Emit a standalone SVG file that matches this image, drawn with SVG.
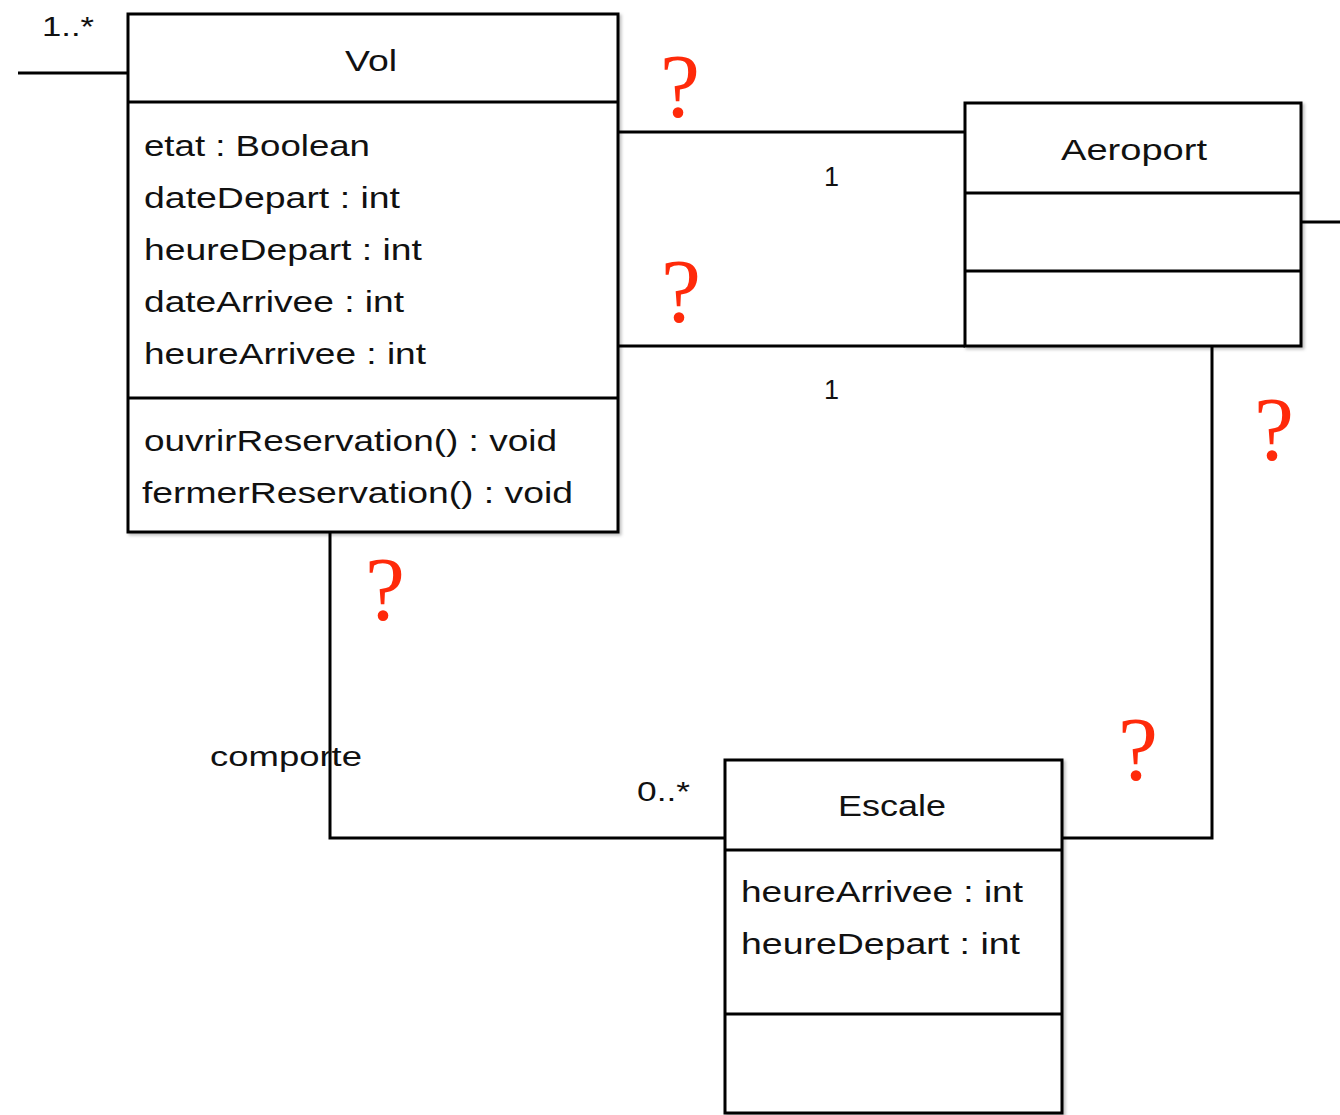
<svg xmlns="http://www.w3.org/2000/svg" width="1340" height="1115" viewBox="0 0 1340 1115">
<style>
.box{fill:#fff;stroke:#000;stroke-width:3}
.div{stroke:#000;stroke-width:3}
.t{font-family:"Liberation Sans",Arial,sans-serif;font-size:30px;fill:#111}
.c{text-anchor:middle}
.lbl{font-family:"Liberation Sans",Arial,sans-serif;font-size:27px;fill:#111}
.q{font-family:"Liberation Serif","Times New Roman",serif;font-size:90px;fill:#ff2a0a;text-anchor:middle}
.conn{fill:none;stroke:#000;stroke-width:3}
</style>
<defs>
<filter id="sh" x="-5%" y="-5%" width="110%" height="110%"><feDropShadow dx="2" dy="2" stdDeviation="1.5" flood-color="#000" flood-opacity="0.25"/></filter>
</defs>
<rect width="1340" height="1115" fill="#fff"/>
<g id="connectors">
<path class="conn" d="M18 73 H128"/>
<path class="conn" d="M618 132 H965"/>
<path class="conn" d="M618 346 H965"/>
<path class="conn" d="M1301 222 H1340"/>
<path class="conn" d="M330 532 V838 H725"/>
<path class="conn" d="M1212 346 V838 H1062"/>
<text class="lbl" x="42" y="36" textLength="52" lengthAdjust="spacingAndGlyphs">1..*</text>
<text class="lbl" x="824" y="186">1</text>
<text class="lbl" x="824" y="399">1</text>
<text class="lbl" x="210" y="766" textLength="152" lengthAdjust="spacingAndGlyphs">comporte</text>
<text class="lbl" x="637" y="801" textLength="53" lengthAdjust="spacingAndGlyphs">0..*</text>
</g>
<g id="Vol">
<rect class="box" x="128" y="14" width="490" height="518" filter="url(#sh)"/>
<line class="div" x1="128" y1="102" x2="618" y2="102"/>
<line class="div" x1="128" y1="398" x2="618" y2="398"/>
<text class="t c" x="371" y="71" textLength="52" lengthAdjust="spacingAndGlyphs">Vol</text>
<text class="t" x="144" y="156" textLength="226" lengthAdjust="spacingAndGlyphs">etat : Boolean</text>
<text class="t" x="144" y="208" textLength="256" lengthAdjust="spacingAndGlyphs">dateDepart : int</text>
<text class="t" x="144" y="260" textLength="278" lengthAdjust="spacingAndGlyphs">heureDepart : int</text>
<text class="t" x="144" y="312" textLength="260" lengthAdjust="spacingAndGlyphs">dateArrivee : int</text>
<text class="t" x="144" y="364" textLength="282" lengthAdjust="spacingAndGlyphs">heureArrivee : int</text>
<text class="t" x="144" y="451" textLength="413" lengthAdjust="spacingAndGlyphs">ouvrirReservation() : void</text>
<text class="t" x="142" y="503" textLength="431" lengthAdjust="spacingAndGlyphs">fermerReservation() : void</text>
</g>
<g id="Aeroport">
<rect class="box" x="965" y="103" width="336" height="243" filter="url(#sh)"/>
<line class="div" x1="965" y1="193" x2="1301" y2="193"/>
<line class="div" x1="965" y1="271" x2="1301" y2="271"/>
<text class="t c" x="1134" y="160" textLength="146" lengthAdjust="spacingAndGlyphs">Aeroport</text>
</g>
<g id="Escale">
<rect class="box" x="725" y="760" width="337" height="353" filter="url(#sh)"/>
<line class="div" x1="725" y1="850" x2="1062" y2="850"/>
<line class="div" x1="725" y1="1014" x2="1062" y2="1014"/>
<text class="t c" x="892" y="816" textLength="108" lengthAdjust="spacingAndGlyphs">Escale</text>
<text class="t" x="741" y="902" textLength="282" lengthAdjust="spacingAndGlyphs">heureArrivee : int</text>
<text class="t" x="741" y="954" textLength="279" lengthAdjust="spacingAndGlyphs">heureDepart : int</text>
</g>
<g id="questions">
<text class="q" x="680" y="117">?</text>
<text class="q" x="681" y="322">?</text>
<text class="q" x="385" y="620">?</text>
<text class="q" x="1274" y="460">?</text>
<text class="q" x="1138" y="780">?</text>
</g>
</svg>
